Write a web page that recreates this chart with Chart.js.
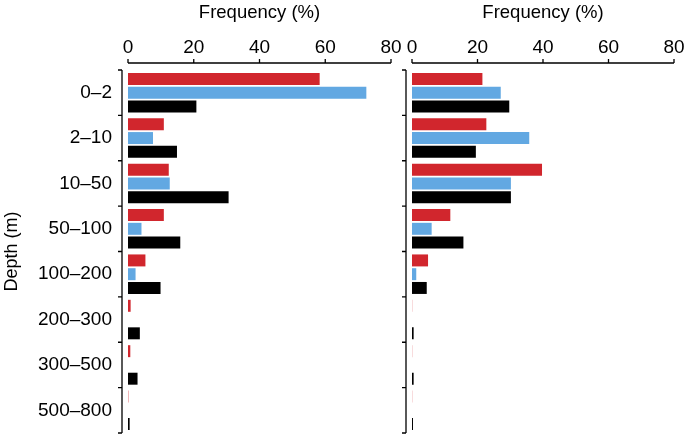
<!DOCTYPE html>
<html>
<head>
<meta charset="utf-8">
<script src="https://cdn.jsdelivr.net/npm/chart.js@4.4.0/dist/chart.umd.min.js"></script>
<style>
  html, body { margin: 0; padding: 0; background: #fff; }
  .wrap { position: absolute; top: 0; height: 435px; }
  #leftWrap { left: 0; width: 402px; }
  #rightWrap { left: 402px; width: 283px; }
</style>
</head>
<body>
<div class="wrap" id="leftWrap"><canvas id="leftChart"></canvas></div>
<div class="wrap" id="rightWrap"><canvas id="rightChart"></canvas></div>
<script>
const depthBins = ['0–2', '2–10', '10–50', '50–100', '100–200', '200–300', '300–500', '500–800'];

// left panel
const leftRed = [58.3, 10.9, 12.4, 10.9, 5.3, 0.8, 0.7, 0.1];
const leftBlue = [72.5, 7.6, 12.7, 4.1, 2.3, 0, 0, 0];
const leftBlack = [20.8, 14.9, 30.6, 15.9, 9.9, 3.6, 2.9, 0.5];

// right panel
const rightRed = [21.5, 22.7, 39.7, 11.7, 4.9, 0.05, 0.05, 0.05];
const rightBlue = [27.1, 35.8, 30.2, 6.0, 1.3, 0, 0, 0];
const rightBlack = [29.7, 19.5, 30.2, 15.7, 4.5, 0.5, 0.5, 0.3];

const xTicks = [0, 20, 40, 60, 80];

const RED = '#d1262d';
const BLUE = '#62a8e2';
const BLACK = '#000000';
const FONT = 'Liberation Sans, Arial, Helvetica, sans-serif';

// axis lines drawn offset from the plot area, R style
const offsetAxes = {
    id: 'offsetAxes',
    afterDraw(chart) {
        const ctx = chart.ctx;
        const area = chart.chartArea;
        const xs = chart.scales.x;
        ctx.save();
        ctx.strokeStyle = '#000';
        ctx.lineWidth = 1.3;
        const ax = area.top - 7;
        ctx.beginPath();
        ctx.moveTo(xs.getPixelForValue(0), ax);
        ctx.lineTo(xs.getPixelForValue(80), ax);
        xTicks.forEach(v => {
            const px = xs.getPixelForValue(v);
            ctx.moveTo(px, ax);
            ctx.lineTo(px, ax - 4);
        });
        const ay = area.left - 6;
        ctx.moveTo(ay, area.top);
        ctx.lineTo(ay, area.bottom);
        const n = depthBins.length;
        for (let i = 0; i <= n; i++) {
            const py = area.top + i * (area.bottom - area.top) / n;
            ctx.moveTo(ay, py);
            ctx.lineTo(ay - 4, py);
        }
        ctx.stroke();
        ctx.restore();
    }
};

function makeChart(canvasId, red, blue, black, showLabels) {
    const ctx = document.getElementById(canvasId).getContext('2d');
    return new Chart(ctx, {
        type: 'bar',
        data: {
            labels: depthBins,
            datasets: [
                { label: 'red', data: red, backgroundColor: RED },
                { label: 'blue', data: blue, backgroundColor: BLUE },
                { label: 'black', data: black, backgroundColor: BLACK }
            ]
        },
        options: {
            indexAxis: 'y',
            responsive: true,
            maintainAspectRatio: false,
            animation: false,
            categoryPercentage: 0.91,
            barPercentage: 0.87,
            layout: { autoPadding: false, padding: { top: 0, right: 11, bottom: 2, left: 0 } },
            plugins: { legend: { display: false }, tooltip: { enabled: false } },
            scales: {
                x: {
                    position: 'top',
                    min: 0,
                    max: 80,
                    afterBuildTicks: s => { s.ticks = xTicks.map(v => ({ value: v })); },
                    afterFit: s => {
                        s.height = 70;
                        s.paddingLeft = 0; s.paddingRight = 0;
                        s.paddingTop = 0; s.paddingBottom = 0;
                    },
                    grid: { display: false, drawTicks: false },
                    border: { display: false },
                    ticks: { color: '#000', padding: 11, maxRotation: 0, font: { family: FONT, size: 19 } },
                    title: {
                        display: true,
                        text: 'Frequency (%)',
                        color: '#000',
                        padding: { top: 2, bottom: 0 },
                        font: { family: FONT, size: 18.5 }
                    }
                },
                y: {
                    afterFit: s => {
                        s.width = showLabels ? 128 : 10;
                        s.paddingLeft = 0; s.paddingRight = 0;
                        s.paddingTop = 0; s.paddingBottom = 0;
                    },
                    grid: { display: false, drawTicks: false },
                    border: { display: false },
                    ticks: { display: showLabels, color: '#000', padding: 16, font: { family: FONT, size: 19 } },
                    title: {
                        display: showLabels,
                        text: 'Depth (m)',
                        color: '#000',
                        padding: { top: 1, bottom: 0 },
                        font: { family: FONT, size: 18 }
                    }
                }
            }
        },
        plugins: [offsetAxes]
    });
}

makeChart('leftChart', leftRed, leftBlue, leftBlack, true);
makeChart('rightChart', rightRed, rightBlue, rightBlack, false);
</script>
</body>
</html>
